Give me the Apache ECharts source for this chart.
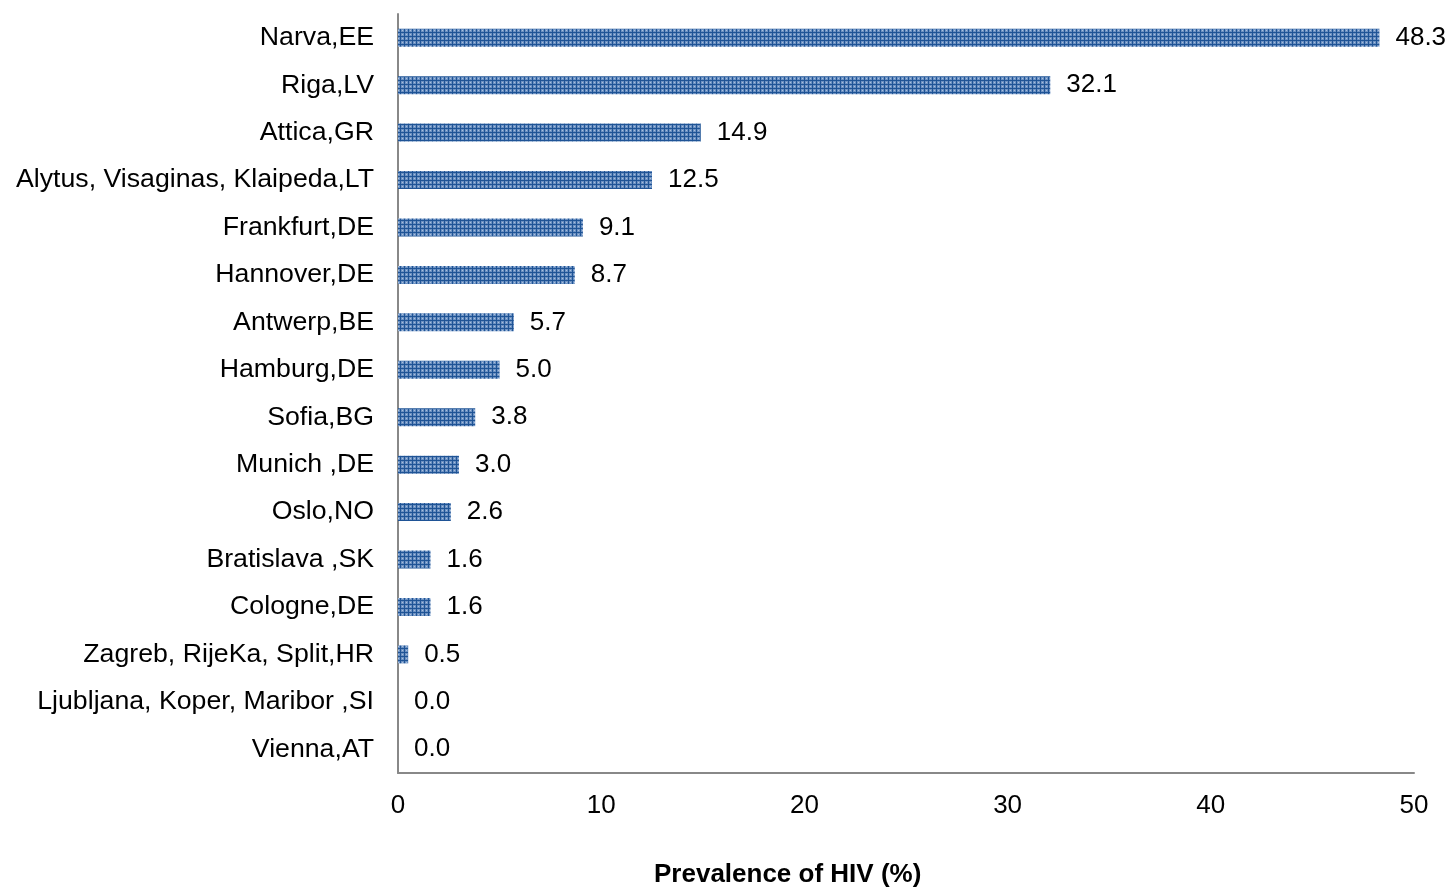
<!DOCTYPE html>
<html>
<head>
<meta charset="utf-8">
<script src="https://cdn.jsdelivr.net/npm/echarts@6/dist/echarts.min.js"></script>
<style>
  html, body { margin: 0; padding: 0; background: #fff; }
  #chart { width: 1455px; height: 889px; }
</style>
</head>
<body>
<div id="chart"></div>
<script>
// data
const cities = [
  "Narva,EE", "Riga,LV", "Attica,GR", "Alytus, Visaginas, Klaipeda,LT",
  "Frankfurt,DE", "Hannover,DE", "Antwerp,BE", "Hamburg,DE", "Sofia,BG",
  "Munich ,DE", "Oslo,NO", "Bratislava ,SK", "Cologne,DE",
  "Zagreb, RijeKa, Split,HR", "Ljubljana, Koper, Maribor ,SI", "Vienna,AT"
];
const prevalence = [48.3, 32.1, 14.9, 12.5, 9.1, 8.7, 5.7, 5.0, 3.8, 3.0, 2.6, 1.6, 1.6, 0.5, 0.0, 0.0];
const xTicks = [0, 10, 20, 30, 40, 50];

// hatched fill like the excel pattern
const makePattern = () => {
  const c = document.createElement("canvas");
  c.width = 8;
  c.height = 8;
  const ctx = c.getContext("2d");
  ctx.fillStyle = "#6c91c2";
  ctx.fillRect(0, 0, 8, 8);
  ctx.fillStyle = "#1f5496";
  ctx.fillRect(0, 0, 8, 1);
  ctx.fillRect(0, 4, 8, 1);
  ctx.fillRect(0, 0, 1, 8);
  ctx.fillRect(4, 0, 1, 8);
  ctx.fillStyle = "#a9c0de";
  ctx.fillRect(2, 2, 1, 1);
  ctx.fillRect(6, 6, 1, 1);
  ctx.fillRect(2, 6, 1, 1);
  ctx.fillRect(6, 2, 1, 1);
  return c;
};

const chart = echarts.init(document.getElementById("chart"));
const font = "Liberation Sans, Arial, sans-serif";

chart.setOption({
  animation: false,
  title: {
    text: "Prevalence of HIV (%)",
    left: 649,
    top: 857,
    textStyle: { fontFamily: font, fontSize: 26, fontWeight: "bold", color: "#000" },
  },
  grid: { left: 398, right: 41, top: 14, bottom: 116 },
  xAxis: {
    type: "value",
    min: 0,
    max: 50,
    interval: 10,
    axisLine: { show: true, lineStyle: { color: "#888", width: 2 } },
    axisTick: { show: false },
    splitLine: { show: false },
    axisLabel: {
      fontFamily: font, fontSize: 26, color: "#000", margin: 20,
      formatter: (v) => (xTicks.includes(v) ? String(v) : ""),
    },
  },
  yAxis: {
    type: "category",
    data: cities,
    inverse: true,
    axisLine: { show: true, lineStyle: { color: "#888", width: 2 } },
    axisTick: { show: false },
    axisLabel: { fontFamily: font, fontSize: 26.7, color: "#000", margin: 24, padding: [2, 0, 0, 0] },
  },
  series: [
    {
      type: "bar",
      data: prevalence,
      barWidth: 18,
      itemStyle: { color: { image: makePattern(), repeat: "repeat" } },
      label: {
        show: true,
        position: "right",
        distance: 16,
        fontFamily: font,
        fontSize: 26,
        color: "#000",
        padding: [3, 0, 0, 0],
        formatter: (p) => p.value.toFixed(1),
      },
    },
  ],
});
</script>
</body>
</html>
